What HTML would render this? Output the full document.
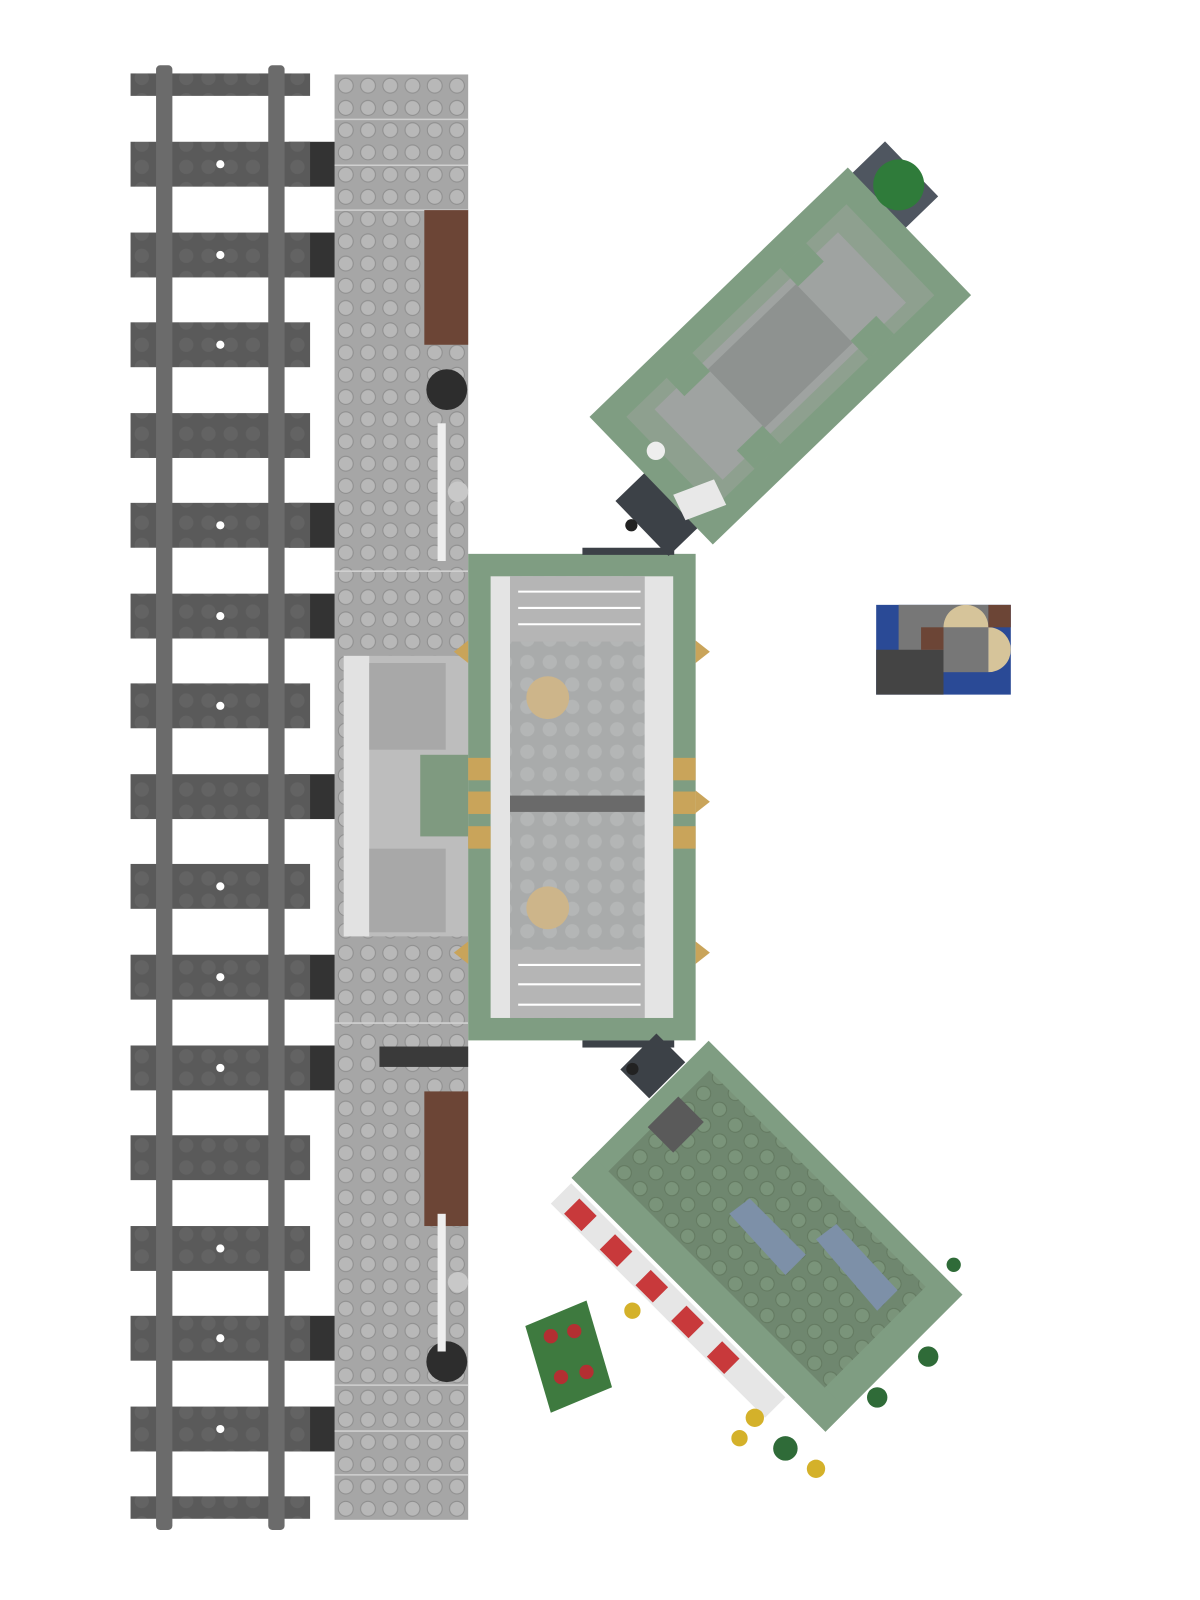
<!DOCTYPE html>
<html><head><style>html,body{margin:0;padding:0;background:#fff;}svg{display:block}</style></head>
<body>
<svg width="1200" height="1600" viewBox="0 0 1200 1600" xmlns="http://www.w3.org/2000/svg">
<defs>
<pattern id="ps" x="328" y="73" width="21.8" height="21.8" patternUnits="userSpaceOnUse">
<rect width="21.8" height="21.8" fill="#a6a6a6"/><circle cx="11" cy="11" r="7.3" fill="#b8b8b8" stroke="#8e8e8e" stroke-width="1"/></pattern>
<pattern id="ss" x="128" y="0" width="21.8" height="21.8" patternUnits="userSpaceOnUse">
<rect width="21.8" height="21.8" fill="#5a5a5a"/><circle cx="11" cy="11" r="7" fill="#636363"/></pattern>
<pattern id="gs" width="22" height="22" patternUnits="userSpaceOnUse">
<rect width="22" height="22" fill="#6f876f"/><circle cx="11" cy="11" r="7" fill="#7a947a" stroke="#62785f"/></pattern>
<pattern id="gl" width="22" height="22" patternUnits="userSpaceOnUse">
<rect width="22" height="22" fill="#a9abab"/><circle cx="11" cy="11" r="7" fill="#b4b6b6"/></pattern>
</defs>
<g transform="scale(1.02)">
<g fill="#333">
<rect x="283" y="139" width="46" height="44"/><rect x="283" y="228" width="46" height="44"/>
<rect x="283" y="493" width="46" height="44"/><rect x="283" y="582" width="46" height="44"/>
<rect x="283" y="759" width="46" height="44"/><rect x="283" y="936" width="46" height="44"/>
<rect x="283" y="1025" width="46" height="44"/><rect x="283" y="1290" width="46" height="44"/>
<rect x="283" y="1379" width="46" height="44"/>
</g>
<g fill="url(#ss)">
<rect x="128" y="72" width="176" height="22"/>
<rect x="128" y="139" width="176" height="44"/><rect x="128" y="228" width="176" height="44"/>
<rect x="128" y="316" width="176" height="44"/><rect x="128" y="405" width="176" height="44"/>
<rect x="128" y="493" width="176" height="44"/><rect x="128" y="582" width="176" height="44"/>
<rect x="128" y="670" width="176" height="44"/><rect x="128" y="759" width="176" height="44"/>
<rect x="128" y="847" width="176" height="44"/><rect x="128" y="936" width="176" height="44"/>
<rect x="128" y="1025" width="176" height="44"/><rect x="128" y="1113" width="176" height="44"/>
<rect x="128" y="1202" width="176" height="44"/><rect x="128" y="1290" width="176" height="44"/>
<rect x="128" y="1379" width="176" height="44"/><rect x="128" y="1467" width="176" height="22"/>
</g>
<g fill="#fff"><circle cx="216" cy="161" r="4"/><circle cx="216" cy="250" r="4"/><circle cx="216" cy="338" r="4"/><circle cx="216" cy="515" r="4"/><circle cx="216" cy="604" r="4"/><circle cx="216" cy="692" r="4"/><circle cx="216" cy="869" r="4"/><circle cx="216" cy="958" r="4"/><circle cx="216" cy="1047" r="4"/><circle cx="216" cy="1224" r="4"/><circle cx="216" cy="1312" r="4"/><circle cx="216" cy="1401" r="4"/></g>
<rect x="153" y="64" width="16" height="1436" rx="4" fill="#6b6b6b"/>
<rect x="263" y="64" width="16" height="1436" rx="4" fill="#6b6b6b"/>
<rect x="328" y="73" width="131" height="1417" fill="url(#ps)"/>
<g stroke="#d0d0d0" stroke-width="1.5"><line x1="328" y1="117" x2="459" y2="117"/><line x1="328" y1="162" x2="459" y2="162"/><line x1="328" y1="206" x2="459" y2="206"/><line x1="328" y1="560" x2="459" y2="560"/><line x1="328" y1="1003" x2="459" y2="1003"/><line x1="328" y1="1358" x2="459" y2="1358"/><line x1="328" y1="1403" x2="459" y2="1403"/><line x1="328" y1="1446" x2="459" y2="1446"/></g>
<rect x="416" y="206" width="43" height="132" fill="#6c4536"/>
<rect x="416" y="1070" width="43" height="132" fill="#6c4536"/>
<rect x="372" y="1026" width="87" height="20" fill="#3a3a3a"/>
<circle cx="438" cy="382" r="20" fill="#2d2d2d"/><circle cx="438" cy="1335" r="20" fill="#2d2d2d"/>
<rect x="429" y="415" width="8" height="135" fill="#eee"/><circle cx="449" cy="482" r="10" fill="#c8c8c8"/>
<rect x="429" y="1190" width="8" height="135" fill="#eee"/><circle cx="449" cy="1257" r="10" fill="#c8c8c8"/>
<rect x="337" y="643" width="122" height="275" fill="#bdbdbd"/>
<rect x="337" y="643" width="25" height="275" fill="#e2e2e2"/>
<rect x="362" y="650" width="75" height="85" fill="#a8a8a8"/>
<rect x="362" y="832" width="75" height="82" fill="#a8a8a8"/>
<rect x="412" y="740" width="47" height="80" fill="#7f9a80"/>
<rect x="459" y="543" width="223" height="477" fill="#7f9d82"/>
<rect x="481" y="565" width="179" height="433" fill="#e4e4e4"/>
<rect x="500" y="565" width="132" height="433" fill="url(#gl)"/>
<rect x="500" y="565" width="132" height="64" fill="#b5b5b5"/>
<rect x="500" y="931" width="132" height="67" fill="#b5b5b5"/>
<g stroke="#fff" stroke-width="2"><line x1="508" y1="580" x2="628" y2="580"/><line x1="508" y1="596" x2="628" y2="596"/><line x1="508" y1="612" x2="628" y2="612"/><line x1="508" y1="946" x2="628" y2="946"/><line x1="508" y1="965" x2="628" y2="965"/><line x1="508" y1="985" x2="628" y2="985"/></g>
<rect x="500" y="780" width="132" height="16" fill="#6a6a6a"/>
<circle cx="537" cy="684" r="21" fill="#cdb58a"/><circle cx="537" cy="890" r="21" fill="#cdb58a"/>
<g fill="#c9a45a"><rect x="459" y="743" width="22" height="22"/><rect x="459" y="776" width="22" height="22"/><rect x="459" y="810" width="22" height="22"/><rect x="660" y="743" width="22" height="22"/><rect x="660" y="776" width="22" height="22"/><rect x="660" y="810" width="22" height="22"/>
<polygon points="682,628 696,639 682,650"/><polygon points="682,775 696,786 682,797"/><polygon points="682,923 696,934 682,945"/>
<polygon points="459,628 445,639 459,650"/><polygon points="459,923 445,934 459,945"/></g>
<rect x="571" y="537" width="90" height="7" fill="#3c4147"/>
<rect x="571" y="1020" width="90" height="7" fill="#3c4147"/>
<g transform="translate(765,349) rotate(-44)">
<rect x="-215" y="-10" width="60" height="75" fill="#3c4147"/>
<rect x="170" y="-80" width="50" height="75" fill="#4f5660"/>
<rect x="-176" y="-87" width="352" height="174" fill="#7f9d82"/>
<rect x="-150" y="-62" width="300" height="124" fill="#8ea08f"/>
<rect x="-125" y="-48" width="250" height="96" fill="#9fa3a1"/>
<rect x="-60" y="-40" width="120" height="80" fill="#8e9290"/>
<g fill="#7f9d82"><rect x="-95" y="-62" width="35" height="25"/><rect x="60" y="-62" width="35" height="25"/><rect x="-95" y="37" width="35" height="25"/><rect x="60" y="37" width="35" height="25"/></g>
<circle cx="200" cy="-40" r="25" fill="#2f7b3a"/>
</g>
<circle cx="643" cy="442" r="9" fill="#eee"/>
<circle cx="619" cy="515" r="6" fill="#222"/>
<polygon points="660,485 700,470 712,495 672,510" fill="#e8e8e8"/>
<g transform="translate(752,1212) rotate(45)">
<rect x="-176" y="-95" width="352" height="190" fill="#7f9d82"/>
<rect x="-155" y="-75" width="300" height="150" fill="url(#gs)"/>
<rect x="-176" y="65" width="352" height="30" fill="#7f9d82"/>
</g>
<polygon points="715,1190 770,1250 790,1230 735,1175" fill="#7d90a8"/>
<polygon points="800,1215 860,1285 880,1265 820,1200" fill="#7d90a8"/>
<polygon points="635,1105 665,1075 690,1100 660,1130" fill="#5a5a5a"/>
<polygon points="540,1180 560,1160 770,1370 750,1390" fill="#e6e6e6"/>
<g fill="#c8393b"><polygon points="553,1190 568,1175 585,1192 570,1207"/><polygon points="588,1225 603,1210 620,1227 605,1242"/><polygon points="623,1260 638,1245 655,1262 640,1277"/><polygon points="658,1295 673,1280 690,1297 675,1312"/><polygon points="693,1330 708,1315 725,1332 710,1347"/></g>
<rect x="620" y="1020" width="40" height="50" fill="#3c4147" transform="rotate(45 640 1045)"/>
<circle cx="620" cy="1048" r="6" fill="#222"/>
<g fill="#d4b12a"><circle cx="740" cy="1390" r="9"/><circle cx="800" cy="1440" r="9"/><circle cx="725" cy="1410" r="8"/><circle cx="620" cy="1285" r="8"/></g>
<g fill="#2f6b38"><circle cx="770" cy="1420" r="12"/><circle cx="860" cy="1370" r="10"/><circle cx="910" cy="1330" r="10"/><circle cx="935" cy="1240" r="7"/></g>
<polygon points="515,1300 575,1275 600,1360 540,1385" fill="#3e7a3f"/>
<g fill="#b32f32"><circle cx="540" cy="1310" r="7"/><circle cx="563" cy="1305" r="7"/><circle cx="550" cy="1350" r="7"/><circle cx="575" cy="1345" r="7"/></g>
<rect x="859" y="593" width="132" height="88" fill="#2a4a96"/>
<rect x="881" y="593" width="88" height="66" fill="#777"/>
<rect x="859" y="637" width="66" height="44" fill="#444"/>
<path d="M925,615 a22,22 0 0 1 44,0 z" fill="#d6c49a"/>
<path d="M969,615 a22,22 0 0 1 0,44 z" fill="#d6c49a"/>
<rect x="969" y="593" width="22" height="22" fill="#6c4536"/>
<rect x="903" y="615" width="22" height="22" fill="#6c4536"/>
</g>
</svg>
</body></html>
